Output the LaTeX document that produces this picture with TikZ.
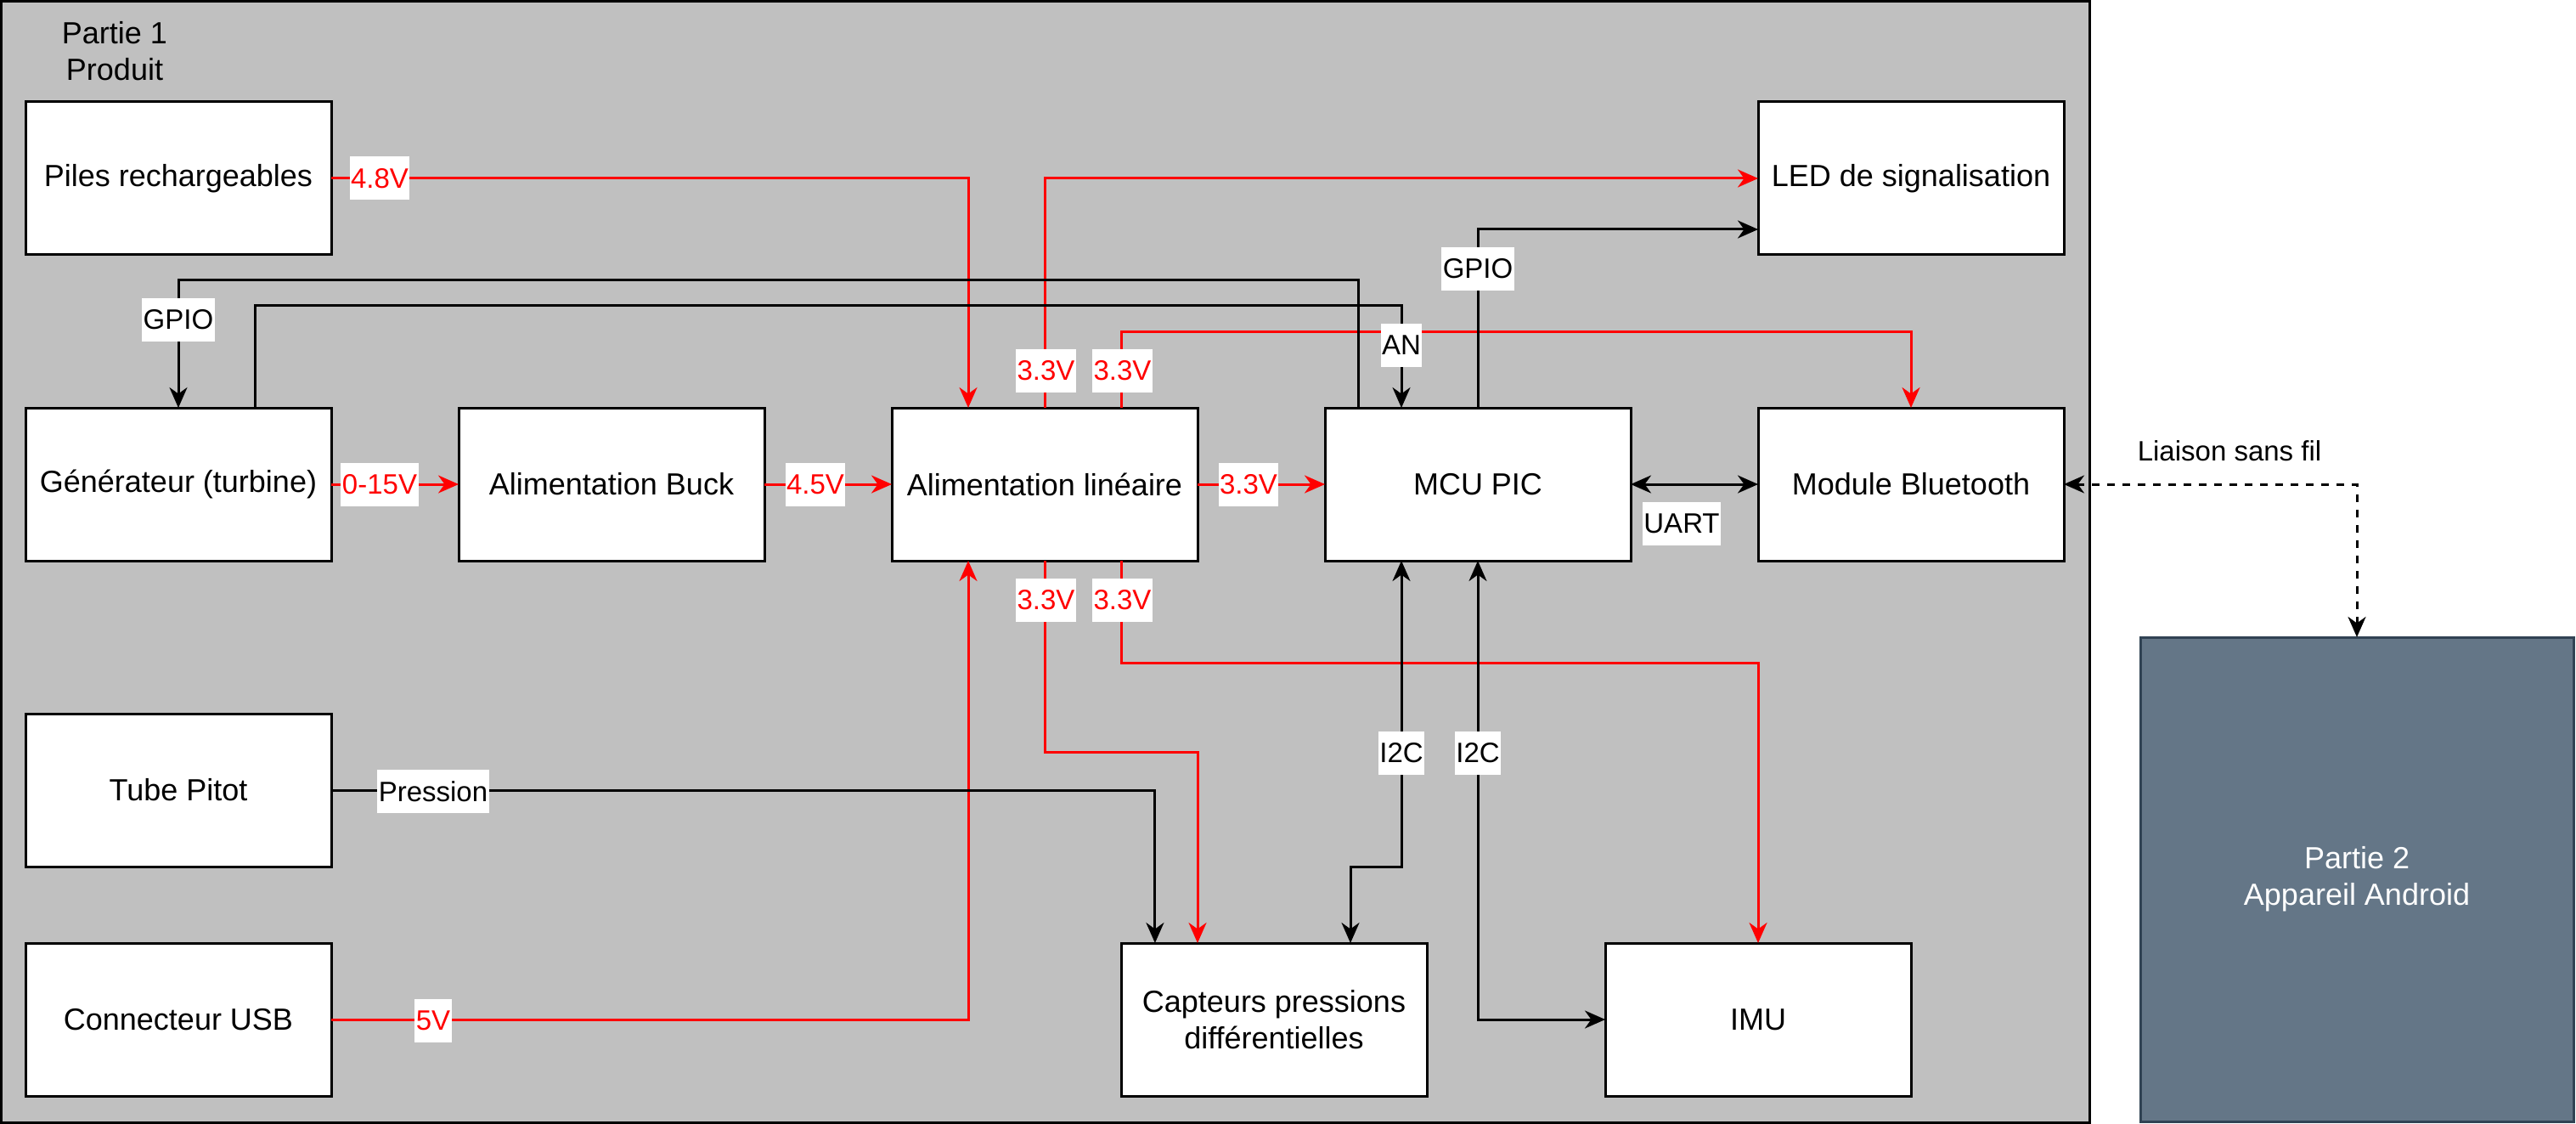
\documentclass[tikz,border=0pt]{standalone}
\usepackage{fontspec}
\setmainfont{Liberation Sans}
\usetikzlibrary{arrows.meta,calc}
\definecolor{panelgray}{HTML}{C0C0C0}
\definecolor{slate}{HTML}{647687}
\definecolor{slateedge}{HTML}{314354}
\definecolor{wire}{HTML}{FF0000}

\begin{document}
\begin{tikzpicture}[x=1pt,y=-1pt,
  blk/.style={draw=black, fill=white, line width=1pt, minimum width=120pt,
    minimum height=60pt, anchor=north west, inner sep=2pt, outer sep=0pt,
    align=center, font=\fontsize{12}{14.4}\selectfont},
  pw/.style={draw=wire, line width=1pt},
  sig/.style={draw=black, line width=1pt},
  onearrow/.style={-{Stealth[length=8pt,width=7pt,inset=2.5pt]}},
  twoarrow/.style={{Stealth[length=8pt,width=7pt,inset=2.5pt]}-{Stealth[length=8pt,width=7pt,inset=2.5pt]}},
  lab/.style={fill=white, font=\fontsize{11}{13}\selectfont, inner xsep=0.5pt,
    inner ysep=0pt, minimum height=17pt, text=black},
  plab/.style={lab, text=wire},
]
\useasboundingbox (0,0) rectangle (1011,441);

% product enclosure
\node[draw=black, fill=panelgray, line width=1pt, minimum width=819.5pt,
  minimum height=440pt, anchor=north west, inner sep=0pt, outer sep=0pt]
  (produit) at (0.5,0.5) {};
\node[align=center, font=\fontsize{12}{14.4}\selectfont] (titre) at (45,20) {Partie 1\\Produit};

% blocks
\node[blk] (piles) at (10,40) {Piles rechargeables};
\node[blk] (led) at (690,40) {LED de signalisation};
\node[blk] (gen) at (10,160) {Générateur (turbine)};
\node[blk] (buck) at (180,160) {Alimentation Buck};
\node[blk] (alin) at (350,160) {Alimentation linéaire};
\node[blk] (mcu) at (520,160) {MCU PIC};
\node[blk] (bt) at (690,160) {Module Bluetooth};
\node[blk] (pitot) at (10,280) {Tube Pitot};
\node[blk] (usb) at (10,370) {Connecteur USB};
\node[blk] (capt) at (440,370) {Capteurs pressions\\différentielles};
\node[blk] (imu) at (630,370) {IMU};
\node[blk, fill=slate, draw=slateedge, text=white, minimum width=170pt,
  minimum height=190pt] (android) at (840,250) {Partie 2\\Appareil Android};

% power rails
\draw[pw, onearrow] (piles.east) -| ($(alin.north west)+(30,0)$)
  node[plab] at (149,70) {4.8V};
\draw[pw, onearrow] (gen.east) -- (buck.west) node[plab] at (149,190) {0-15V};
\draw[pw, onearrow] (buck.east) -- (alin.west) node[plab] at (320,190) {4.5V};
\draw[pw, onearrow] (alin.east) -- (mcu.west) node[plab] at (490,190) {3.3V};
\draw[pw, onearrow] (alin.north) |- (led.west) node[plab] at (410.5,145.5) {3.3V};
\draw[pw, onearrow] ($(alin.north west)+(90,0)$) -- ++(0,-30) -| (bt.north)
  node[plab] at (440.5,145.5) {3.3V};
\draw[pw, onearrow] (alin.south) -- ++(0,75) -| ($(capt.north west)+(30,0)$)
  node[plab] at (410.5,235.5) {3.3V};
\draw[pw, onearrow] ($(alin.south west)+(90,0)$) -- ++(0,40) -| (imu.north)
  node[plab] at (440.5,235.5) {3.3V};
\draw[pw, onearrow] (usb.east) -| ($(alin.south west)+(30,0)$)
  node[plab] at (170,400.5) {5V};

% signal lines
\draw[sig, onearrow] ($(mcu.north west)+(13.3,0)$) -- ++(0,-50) -| (gen.north)
  node[lab] at (70,125.5) {GPIO};
\draw[sig, onearrow] ($(gen.north)+(30,0)$) -- ++(0,-40) -| ($(mcu.north west)+(30,0)$)
  node[lab] at (550,135.5) {AN};
\draw[sig, onearrow] (mcu.north) |- ($(led.south west)+(0,-10)$)
  node[lab] at (580,105.5) {GPIO};
\draw[sig, twoarrow] (mcu.east) -- (bt.west) node[lab] at (660,205.5) {UART};
\draw[sig, onearrow] (pitot.east) -| ($(capt.north west)+(13.3,0)$)
  node[lab] at (170,310.5) {Pression};
\draw[sig, twoarrow] ($(mcu.south west)+(30,0)$) -- ++(0,120) -| ($(capt.north east)+(-30,0)$)
  node[lab] at (550,295.5) {I2C};
\draw[sig, twoarrow] (mcu.south) |- (imu.west) node[lab] at (580,295.5) {I2C};

% wireless link
\draw[sig, twoarrow, dash pattern=on 3pt off 3pt] (bt.east) -| (android.north)
  node[font=\fontsize{11}{13}\selectfont] at (875,177) {Liaison sans fil};
\end{tikzpicture}
\end{document}
